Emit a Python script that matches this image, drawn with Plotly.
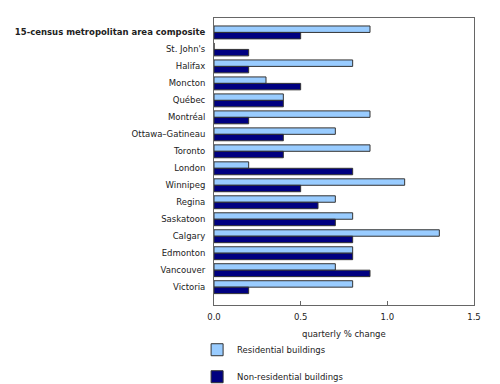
import plotly.graph_objects as go

categories = ["15-census metropolitan area composite", "St. John's", "Halifax", "Moncton", "Québec",
              "Montréal", "Ottawa–Gatineau", "Toronto", "London", "Winnipeg", "Regina",
              "Saskatoon", "Calgary", "Edmonton", "Vancouver", "Victoria"]
residential = [0.9, 0.0, 0.8, 0.3, 0.4, 0.9, 0.7, 0.9, 0.2, 1.1, 0.7, 0.8, 1.3, 0.8, 0.7, 0.8]
non_residential = [0.5, 0.2, 0.2, 0.5, 0.4, 0.2, 0.4, 0.4, 0.8, 0.5, 0.6, 0.7, 0.8, 0.8, 0.9, 0.2]
x_ticks = [0.0, 0.5, 1.0, 1.5]
x_tick_labels = ["0.0", "0.5", "1.0", "1.5"]
x_title = "quarterly % change"

tick_text = ["<b>" + categories[0] + "</b>"] + categories[1:]
idx = list(range(len(categories)))

fig = go.Figure()
fig.add_trace(go.Bar(
    y=idx, x=residential, orientation="h", name="Residential buildings",
    marker=dict(color="#99CCFF", line=dict(color="#333333", width=1)), legendgroup="a"))
fig.add_trace(go.Bar(
    y=idx, x=non_residential, orientation="h", name="Non-residential buildings",
    marker=dict(color="#000080", line=dict(color="#333333", width=1)), legendgroup="b"))

fig.update_layout(
    width=500, height=384,
    margin=dict(l=214, r=26, t=18, b=79, autoexpand=False),
    paper_bgcolor="white", plot_bgcolor="white",
    barmode="group", bargap=0.24, bargroupgap=0,
    font=dict(family="DejaVu Sans, Verdana, sans-serif", size=8.5, color="#222222"),
    showlegend=True,
    legend=dict(x=-0.065, xanchor="left", yref="container", y=0.127, yanchor="top",
                orientation="v", tracegroupgap=8, font=dict(size=8.5),
                bgcolor="rgba(0,0,0,0)", itemwidth=30),
    xaxis=dict(range=[0, 1.5], tickvals=x_ticks, ticktext=x_tick_labels, automargin=False,
               showgrid=False, zeroline=False, showline=True, linecolor="#666666", linewidth=1,
               mirror=True, ticks="inside", ticklen=4, tickcolor="#666666", ticklabelstandoff=4),
    yaxis=dict(tickvals=idx, ticktext=tick_text, range=[16.05, -0.85], automargin=False,
               showgrid=False, zeroline=False, showline=True, linecolor="#666666", linewidth=1,
               mirror=True, ticks="", ticklabelstandoff=6),
    annotations=[dict(text=x_title, xref="paper", yref="paper", x=0.5, y=-0.101,
                      xanchor="center", yanchor="middle", showarrow=False,
                      font=dict(size=8.5, color="#222222"))],
)

fig.write_html("out.html", config={"displayModeBar": False},
               post_script="document.body.style.margin='0px';")
